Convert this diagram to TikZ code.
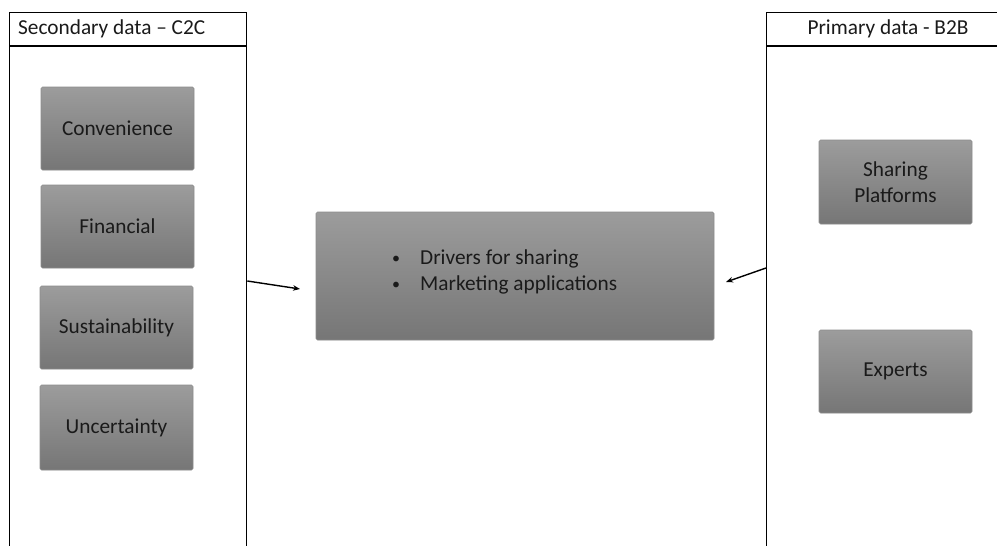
\documentclass[tikz,border=0pt]{standalone}
\usepackage{fontspec}
\setmainfont{Carlito}
\usetikzlibrary{arrows.meta}
\definecolor{boxtop}{HTML}{9C9C9C}
\definecolor{boxbot}{HTML}{767676}
\definecolor{boxline}{HTML}{8C8C8C}
\definecolor{ink}{HTML}{1A1A1A}
\tikzset{
  panel/.style={draw=black, line width=1.3pt, fill=white, rectangle, anchor=north west, inner sep=0pt},
  greybox/.style={rectangle, rounded corners=1.5pt, draw=boxline, line width=0.6pt,
    top color=boxtop, bottom color=boxbot, text=ink, font=\fontsize{21.3}{26}\selectfont,
    align=center, minimum width=153pt, minimum height=83pt, inner sep=0pt},
  headtext/.style={text=ink, font=\fontsize{21.3}{24}\selectfont, inner sep=0pt},
  bullettext/.style={text=ink, font=\fontsize{21.3}{24}\selectfont, inner sep=0pt, anchor=base west},
  arr/.style={line width=1.4pt, -{Stealth[length=7pt,width=5.5pt]}}
}
\begin{document}
\begin{tikzpicture}[x=1pt, y=-1pt]
  \clip (0,0) rectangle (997,546);
  \fill[white] (0,0) rectangle (997,546);

  % side panels with title rows
  \node[panel, minimum width=237pt, minimum height=560pt] (lp) at (9,12) {};
  \draw[line width=1.3pt] ([yshift=-34pt]lp.north west) -- ([yshift=-34pt]lp.north east);
  \node[headtext, anchor=west] (lph) at (18,29) {Secondary data – C2C};

  \node[panel, minimum width=246pt, minimum height=560pt] (rp) at (766,12) {};
  \draw[line width=1.3pt] ([yshift=-34pt]rp.north west) -- ([yshift=-34pt]rp.north east);
  \node[headtext] (rph) at (888,29) {Primary data - B2B};

  % secondary data themes
  \node[greybox] (conv) at (117.5,128.5) {Convenience};
  \node[greybox] (fin)  at (117.5,226.5) {Financial};
  \node[greybox] (sus)  at (116.5,327.5) {Sustainability};
  \node[greybox, minimum height=85pt] (unc) at (116.5,427.5) {Uncertainty};

  % primary data sources
  \node[greybox, minimum height=84pt] (plat) at (895.5,182) {Sharing\\Platforms};
  \node[greybox] (exp) at (895.5,371.5) {Experts};

  % central outcome box
  \node[greybox, minimum width=398pt, minimum height=128pt] (mid) at (515,276) {};
  \node[bullettext, font=\fontsize{16}{20}\selectfont] (b1) at (392,263) {•};
  \node[bullettext] (t1) at (420,264) {Drivers for sharing};
  \node[bullettext, font=\fontsize{16}{20}\selectfont] (b2) at (392,289) {•};
  \node[bullettext] (t2) at (420,290) {Marketing applications};

  % connectors
  \coordinate (lend) at (300,289);
  \coordinate (rend) at (726,282);
  \draw[arr] (lp.east |- 0,281) -- (lend);
  \draw[arr] (rp.west |- 0,268) -- (rend);
\end{tikzpicture}
\end{document}
